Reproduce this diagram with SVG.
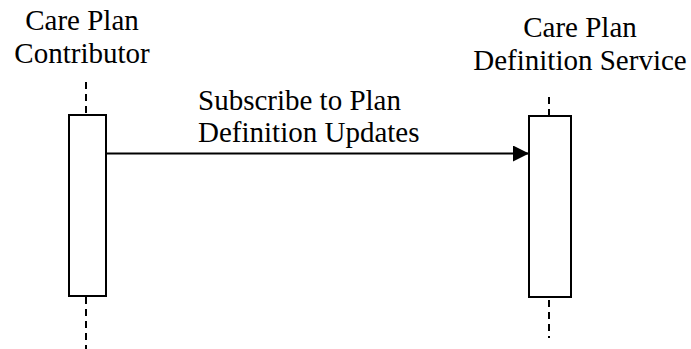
<svg xmlns="http://www.w3.org/2000/svg" width="691" height="349" viewBox="0 0 691 349">
<defs>
<style>
text{font-family:"Liberation Serif","Times New Roman",serif;font-size:29px;fill:#000}
.life{stroke:#000;stroke-width:2;stroke-dasharray:7,5;fill:none}
.act{fill:#fff;stroke:#000;stroke-width:2}
.msg{stroke:#000;stroke-width:2;fill:none}
</style>
<marker id="ah" viewBox="0 0 16 16" refX="16" refY="8" markerWidth="16" markerHeight="16" markerUnits="userSpaceOnUse" orient="auto">
<path d="M0,0 L16,8 L0,16 Z" fill="#000"/>
</marker>
</defs>
<g id="contributor">
<text x="82" y="30" text-anchor="middle">Care Plan</text>
<text x="82" y="63" text-anchor="middle">Contributor</text>
<line class="life" x1="86" y1="82" x2="86" y2="115"/>
<line class="life" x1="86" y1="297" x2="86" y2="349"/>
<rect class="act" x="69" y="115" width="37" height="181"/>
</g>
<g id="service">
<text x="580" y="37" text-anchor="middle">Care Plan</text>
<text x="580" y="70" text-anchor="middle">Definition Service</text>
<line class="life" x1="549" y1="97" x2="549" y2="116"/>
<line class="life" x1="549" y1="300" x2="549" y2="338"/>
<rect class="act" x="529" y="116" width="42" height="181"/>
</g>
<g id="connectors">
<line class="msg" x1="106" y1="153.5" x2="529" y2="153.5" marker-end="url(#ah)"/>
<text x="198" y="110">Subscribe to Plan</text>
<text x="198" y="142">Definition Updates</text>
</g>
</svg>
